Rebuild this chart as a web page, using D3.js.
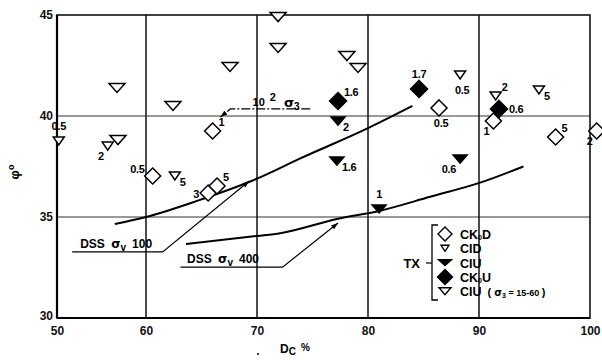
<!DOCTYPE html>
<html>
<head>
<meta charset="utf-8">
<script src="https://cdn.jsdelivr.net/npm/d3@7"></script>
<style>
  body { margin: 0; background: #fff; }
  svg { display: block; font-family: "Liberation Sans", Arial, sans-serif; font-weight: bold; }
</style>
</head>
<body>
<div id="chart"></div>
<script>
// tick labels
var xTicks = [50, 60, 70, 80, 90, 100];
var yTicks = [30, 35, 40, 45];

// CK0D  open diamonds  [Dc, phi, label]
var ck0d = [[60.6, 37.03, "0.5"], [65.6, 36.19, "3"], [66.4, 36.53, "5"], [66.0, 39.26, "1"],
            [86.4, 40.40, "0.5"], [91.3, 39.75, "1"], [96.9, 38.96, "5"], [100.6, 39.26, "2"]];
var ck0dLab = ["nw", "w", "ne", "ne", "s", "sw", "ne", "sw"];

// CID  small open triangles
var cid = [[50.2, 38.76, "0.5"], [55.7, 38.51, "2"], [62.6, 37.03, "5"],
           [88.3, 42.03, "0.5"], [91.5, 40.99, "2"], [95.4, 41.29, "5"]];
var cidLab = ["n", "sw", "se", "s", "ne", "se"];

// CIU  filled triangles
var ciu = [[77.3, 39.75, "2"], [77.2, 37.77, "1.6"], [88.3, 37.87, "0.6"], [81.0, 35.40, "1"]];
var ciuLab = ["se", "se", "sw", "n"];

// CK0U  filled diamonds
var ck0u = [[77.3, 40.74, "1.6"], [84.6, 41.34, "1.7"], [91.8, 40.35, "0.6"]];
var ck0uLab = ["ne", "n", "e"];

// CIU (sigma3 = 15-60)  large open triangles
var ciu3 = [[56.74, 41.39], [62.43, 40.50], [67.57, 42.43], [71.9, 44.9],
            [71.9, 43.37], [78.1, 42.97], [79.1, 42.38], [56.85, 38.81]];

// DSS curves
var dss100 = [[56.5, 34.65], [60, 35.0], [64.6, 35.8], [70, 36.9], [73.9, 37.9], [80, 39.4], [84, 40.5]];
var dss400 = [[63.6, 33.66], [70, 34.06], [72.1, 34.2], [77.2, 34.9], [81, 35.3], [85.6, 36.0], [90.1, 36.7], [94, 37.5]];

var W = 602, H = 360;
var svg = d3.select("#chart").append("svg").attr("width", W).attr("height", H);

// the scanned axis is squeezed between 50 and 60
var x = d3.scaleLinear().domain([50, 60, 100]).range([57, 146, 590]);
var y = d3.scaleLinear().domain([30, 45]).range([318, 15]);

// grid
svg.append("g").selectAll("line").data([35, 40]).join("line")
  .attr("x1", x(50)).attr("x2", x(100))
  .attr("y1", d => y(d)).attr("y2", d => y(d))
  .attr("stroke", "#333").attr("stroke-width", 1);
svg.append("g").selectAll("line").data([60, 70, 80, 90]).join("line")
  .attr("x1", d => x(d)).attr("x2", d => x(d))
  .attr("y1", y(30)).attr("y2", y(45))
  .attr("stroke", "#111").attr("stroke-width", 1.5);

// frame
svg.append("rect").attr("x", x(50)).attr("y", y(45))
  .attr("width", x(100) - x(50)).attr("height", y(30) - y(45))
  .attr("fill", "none").attr("stroke", "#111").attr("stroke-width", 1.6);
svg.append("line").attr("x1", x(50)).attr("x2", x(50)).attr("y1", y(45)).attr("y2", y(30))
  .attr("stroke", "#000").attr("stroke-width", 2.2);
svg.append("line").attr("x1", x(50)).attr("x2", x(100)).attr("y1", y(30)).attr("y2", y(30))
  .attr("stroke", "#000").attr("stroke-width", 2.2);

// axes (labels only, the frame draws the lines)
var xAxis = svg.append("g").attr("transform", "translate(0," + y(30) + ")")
  .call(d3.axisBottom(x).tickValues(xTicks).tickSize(0).tickPadding(8));
var yAxis = svg.append("g").attr("transform", "translate(" + x(50) + ",0)")
  .call(d3.axisLeft(y).tickValues(yTicks).tickSize(0).tickPadding(4));
[xAxis, yAxis].forEach(function(a) {
  a.select(".domain").remove();
  a.selectAll("text").attr("font-size", 12).attr("font-weight", "bold")
    .attr("font-family", "Liberation Sans, Arial, sans-serif").attr("fill", "#111");
});
yAxis.selectAll(".tick").filter(d => d == 30).select("text").attr("dy", "0.1em");

// axis titles
var yl = svg.append("text").attr("transform", "translate(19,172) rotate(-90)")
  .attr("text-anchor", "middle").attr("font-size", 13);
yl.append("tspan").text("φ");
yl.append("tspan").attr("dy", -5).attr("font-size", 9).text("o");
svg.append("circle").attr("cx", 258).attr("cy", 354).attr("r", 1.1).attr("fill", "#111");
var xl = svg.append("text").attr("x", 280).attr("y", 353).attr("font-size", 12);
xl.append("tspan").text("D");
xl.append("tspan").attr("dy", 2).attr("font-size", 10).text("C");
xl.append("tspan").attr("dy", -4).attr("dx", 5).attr("font-size", 10).text("%");

// symbols
function tri(w, h) {
  return "M" + (-w / 2) + "," + (-h / 2) + "L" + (w / 2) + "," + (-h / 2) + "L0," + (h / 2) + "Z";
}
function dia(r) {
  return "M0," + (-r) + "L" + r + ",0L0," + r + "L" + (-r) + ",0Z";
}

var labOff = {
  n:  [0, -11, "middle"], s: [2, 19, "middle"],
  e:  [10, 4, "start"], w: [-9, 5, "end"],
  ne: [6, -5, "start"], nw: [-8, -3, "end"],
  se: [5, 10, "start"], sw: [-4, 14, "end"]
};

function series(data, labs, shape, fill) {
  var g = svg.append("g");
  g.selectAll("path").data(data).join("path")
    .attr("transform", d => "translate(" + x(d[0]) + "," + y(d[1]) + ")")
    .attr("d", shape)
    .attr("fill", fill ? "#000" : "#fff")
    .attr("stroke", "#000").attr("stroke-width", 1.5)
    .attr("stroke-linejoin", "miter");
  if (labs) {
    g.selectAll("text").data(data).join("text")
      .attr("x", (d, i) => x(d[0]) + labOff[labs[i]][0])
      .attr("y", (d, i) => y(d[1]) + labOff[labs[i]][1])
      .attr("text-anchor", (d, i) => labOff[labs[i]][2])
      .attr("font-size", 11).attr("letter-spacing", -0.3)
      .text(d => d[2]);
  }
}

// curves
var line = d3.line().x(d => x(d[0])).y(d => y(d[1])).curve(d3.curveMonotoneX);
[dss100, dss400].forEach(function(c) {
  svg.append("path").datum(c).attr("d", line)
    .attr("fill", "none").attr("stroke", "#000").attr("stroke-width", 2);
});

series(ciu3, null, tri(16, 9), false);
series(cid, cidLab, tri(11, 8), false);
series(ck0d, ck0dLab, dia(8), false);
series(ciu, ciuLab, tri(14, 8), true);
series(ck0u, ck0uLab, dia(8.5), true);

// leader lines with arrow heads
function arrowHead(x1, y1, x2, y2) {
  var a = Math.atan2(y2 - y1, x2 - x1) * 180 / Math.PI;
  svg.append("path").attr("d", "M0,0L-7,-2.5L-7,2.5Z")
    .attr("transform", "translate(" + x2 + "," + y2 + ") rotate(" + a + ")")
    .attr("fill", "#000");
}
function leader(pts, dashed) {
  var p = pts.map(d => [x(d[0]), y(d[1])]);
  svg.append("path").attr("d", d3.line()(p)).attr("fill", "none")
    .attr("stroke", "#000").attr("stroke-width", 1.2)
    .attr("stroke-dasharray", dashed ? "9,2,2,2" : null);
  var n = p.length;
  arrowHead(p[n - 2][0], p[n - 2][1], p[n - 1][0], p[n - 1][1]);
}

leader([[51.7, 33.27], [61.5, 33.27], [69.3, 36.78]]);
leader([[63.1, 32.52], [72.3, 32.52], [77.3, 34.70]]);
leader([[74.8, 40.35], [67.6, 40.35], [66.7, 39.95]], true);

function dssText(xv, yv, s) {
  var t = svg.append("text").attr("x", x(xv)).attr("y", y(yv)).attr("font-size", 12);
  t.append("tspan").text("DSS ");
  t.append("tspan").attr("dx", 3).attr("font-family", "DejaVu Sans").attr("font-size", 12).text("σ");
  t.append("tspan").attr("dy", 3).attr("font-size", 10).text("v");
  t.append("tspan").attr("dy", -3).attr("dx", 6).text(s);
}
dssText(52.6, 33.47, "100");
dssText(63.7, 32.72, "400");

var sg = svg.append("text").attr("x", x(69.6)).attr("y", y(40.5)).attr("font-size", 11);
sg.append("tspan").text("10");
sg.append("tspan").attr("dx", 5).attr("dy", -5).text("2");
sg.append("tspan").attr("dx", 8).attr("dy", 6).attr("font-family", "DejaVu Sans").attr("font-size", 13).text("σ");
sg.append("tspan").attr("dy", 3).attr("font-size", 10).text("3");

// legend
var legNames = ["CK0D", "CID", "CIU", "CK0U", "CIU"];
var legShapes = [dia(7), tri(8, 6), tri(13, 6), dia(7.5), tri(12, 7)];
var legFill = [false, false, true, true, false];
var lg = svg.append("g").attr("transform", "translate(432,234)");
lg.append("path").attr("d", "M6,-9H0V66H6").attr("fill", "none").attr("stroke", "#000").attr("stroke-width", 1.3);
lg.append("line").attr("x1", -6).attr("x2", 0).attr("y1", 29).attr("y2", 29).attr("stroke", "#000").attr("stroke-width", 1.2);
lg.append("text").attr("x", -12).attr("y", 34).attr("text-anchor", "end").attr("font-size", 13).text("TX");
legNames.forEach(function(nm, i) {
  var ry = i * 14.3;
  lg.append("path").attr("d", legShapes[i]).attr("transform", "translate(13," + ry + ")")
    .attr("fill", legFill[i] ? "#000" : "#fff").attr("stroke", "#000").attr("stroke-width", 1.4);
  var t = lg.append("text").attr("x", 28).attr("y", ry + 5).attr("font-size", 12.5);
  if (nm.indexOf("0") > 0) {
    t.append("tspan").text("CK");
    t.append("tspan").attr("dy", 1).attr("font-size", 7).text("0");
    t.append("tspan").attr("dy", -1).text(nm.slice(3));
  } else {
    t.text(nm);
  }
  if (i == 4) {
    t.append("tspan").attr("dx", 6).attr("font-size", 11).text("( ");
    t.append("tspan").attr("font-family", "DejaVu Sans").attr("font-size", 10).text("σ");
    t.append("tspan").attr("dy", 2).attr("font-size", 7).text("3");
    t.append("tspan").attr("dy", -2).attr("font-size", 9).text(" = 15-60 ");
    t.append("tspan").attr("font-size", 11).text(")");
  }
});
</script>
</body>
</html>
